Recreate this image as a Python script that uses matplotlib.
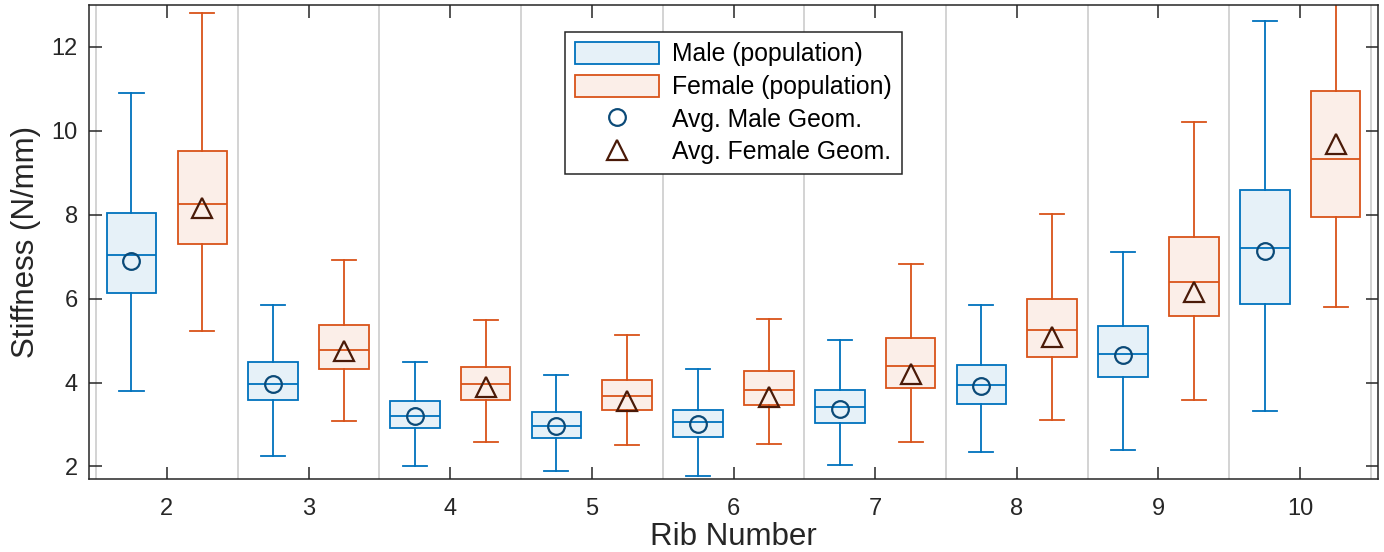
import matplotlib
matplotlib.use("Agg")
import matplotlib.pyplot as plt
from matplotlib.patches import Patch
from matplotlib.lines import Line2D

plt.rcParams['font.family'] = ['Liberation Sans', 'DejaVu Sans']

ribs = [2, 3, 4, 5, 6, 7, 8, 9, 10]

# male population box stats
m_lo  = [3.79, 2.26, 2.01, 1.89, 1.78, 2.03, 2.34, 2.40, 3.31]
m_q1  = [6.14, 3.58, 2.91, 2.68, 2.71, 3.03, 3.48, 4.13, 5.88]
m_med = [7.05, 3.97, 3.20, 2.97, 3.05, 3.42, 3.93, 4.67, 7.21]
m_q3  = [8.04, 4.49, 3.55, 3.29, 3.35, 3.83, 4.42, 5.35, 8.60]
m_hi  = [10.89, 5.84, 4.50, 4.18, 4.32, 5.02, 5.85, 7.11, 12.62]

# female population box stats
f_lo  = [5.22, 3.09, 2.59, 2.51, 2.53, 2.58, 3.11, 3.59, 5.81]
f_q1  = [7.31, 4.32, 3.59, 3.35, 3.46, 3.86, 4.60, 5.59, 7.94]
f_med = [8.26, 4.77, 3.96, 3.68, 3.82, 4.39, 5.25, 6.39, 9.33]
f_q3  = [9.52, 5.36, 4.37, 4.07, 4.28, 5.05, 5.98, 7.47, 10.96]
f_hi  = [12.81, 6.93, 5.48, 5.14, 5.52, 6.83, 8.02, 10.22, 13.4]

# average geometry models
avg_male   = [6.89, 3.96, 3.21, 2.96, 3.02, 3.37, 3.91, 4.66, 7.13]
avg_female = [8.17, 4.74, 3.90, 3.55, 3.65, 4.21, 5.08, 6.17, 9.68]

blue = '#0072BD'
orange = '#D95319'
blue_fill = '#E6F1F8'
orange_fill = '#FBEEE8'
circ_col = '#0B4A78'
tri_col = '#4A1A08'
dark = '#262626'


def stats(lo, q1, med, q3, hi):
    return [dict(whislo=a, q1=b, med=c, q3=d, whishi=e, fliers=[])
            for a, b, c, d, e in zip(lo, q1, med, q3, hi)]


fig = plt.figure(figsize=(13.84, 5.52), dpi=100)
ax = fig.add_axes([0.0643, 0.1322, 0.9314, 0.8588])

off = 0.25
w = 0.35
for st, col, fill, sgn in [(stats(m_lo, m_q1, m_med, m_q3, m_hi), blue, blue_fill, -1),
                           (stats(f_lo, f_q1, f_med, f_q3, f_hi), orange, orange_fill, 1)]:
    pos = [r + sgn * off for r in ribs]
    ax.bxp(st, positions=pos, widths=w, capwidths=0.17, patch_artist=True,
           showfliers=False, manage_ticks=False,
           boxprops=dict(facecolor=fill, edgecolor=col, linewidth=1.3),
           whiskerprops=dict(color=col, linewidth=1.3),
           capprops=dict(color=col, linewidth=1.3),
           medianprops=dict(color=col, linewidth=1.3))

ax.plot([r - off for r in ribs], avg_male, 'o', ls='none', ms=12,
        mfc='none', mec=circ_col, mew=1.6, zorder=5)
ax.plot([r + off for r in ribs], avg_female, '^', ls='none', ms=14.5,
        mfc='none', mec=tri_col, mew=1.6, zorder=5)

ax.set_xlim(1.45, 10.55)
ax.set_ylim(1.7, 13)
ax.set_xticks(ribs)
ax.set_xticks([r + 0.5 for r in [1] + ribs], minor=True)
ax.set_yticks([2, 4, 6, 8, 10, 12])
ax.grid(True, which='minor', axis='x', color='#C8C8C8', linewidth=1.1)
ax.set_axisbelow(True)
ax.tick_params(which='major', direction='in', top=True, right=True, length=9,
               width=1.1, colors=dark, labelsize=17)
ax.tick_params(axis='x', which='major', pad=14)
ax.tick_params(axis='y', which='major', pad=8)
ax.tick_params(which='minor', length=0)
for s in ax.spines.values():
    s.set_color(dark)
    s.set_linewidth(1.1)

ax.set_xlabel('Rib Number', fontsize=22.5, color=dark, labelpad=1)
ax.set_ylabel('Stiffness (N/mm)', fontsize=22.5, color=dark, labelpad=8)

handles = [Patch(facecolor=blue_fill, edgecolor=blue, linewidth=1.3),
           Patch(facecolor=orange_fill, edgecolor=orange, linewidth=1.3),
           Line2D([], [], marker='o', ls='none', ms=12, mfc='none', mec=circ_col, mew=1.6),
           Line2D([], [], marker='^', ls='none', ms=14.5, mfc='none', mec=tri_col, mew=1.6)]
labels = ['Male (population)', 'Female (population)', 'Avg. Male Geom.', 'Avg. Female Geom.']
leg = ax.legend(handles, labels, loc='upper left', bbox_to_anchor=(0.369, 0.943),
                fontsize=17.8, handlelength=3.4, handleheight=1.0, handletextpad=0.55,
                labelspacing=0.33, borderpad=0.4, borderaxespad=0, fancybox=False,
                framealpha=1, edgecolor=dark)
leg.get_frame().set_linewidth(1.1)

fig.savefig('out.png', dpi=100)
